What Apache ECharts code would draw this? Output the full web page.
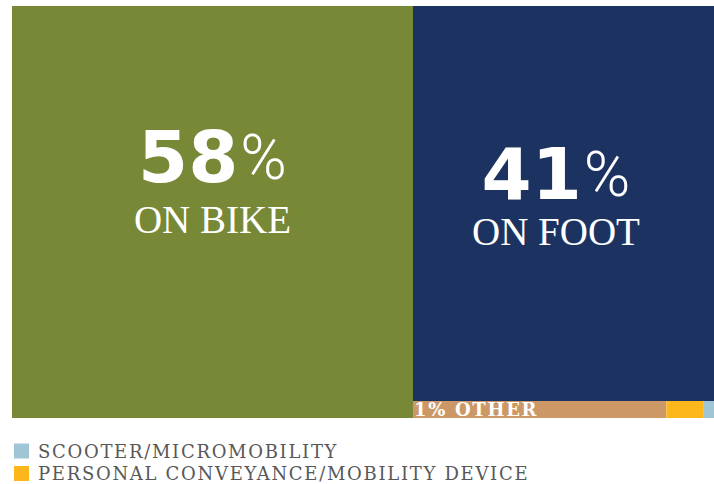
<!DOCTYPE html>
<html>
<head>
<meta charset="utf-8">
<script src="https://cdn.jsdelivr.net/npm/echarts@6/dist/echarts.min.js"></script>
<style>
html, body { margin: 0; padding: 0; background: #ffffff; }
#chart { width: 714px; height: 484px; }
#chart text[style*="DejaVu Serif"] { letter-spacing: 1.7px; }
</style>
</head>
<body>
<div id="chart"></div>
<script>
// ---- data ----
const categories = ['ON BIKE', 'ON FOOT', 'OTHER', 'PERSONAL CONVEYANCE/MOBILITY DEVICE', 'SCOOTER/MICROMOBILITY'];
// share of the drawn area (%) of each block
const areaShare = [57.12, 41.11, 1.49, 0.22, 0.06];
// printed share labels
const shareText = ['58%', '41%', '1%', '', ''];
const legendItems = ['SCOOTER/MICROMOBILITY', 'PERSONAL CONVEYANCE/MOBILITY DEVICE'];

// ---- styles ----
const palette = ['#778837', '#1c3362', '#cc9866', '#fdb71a', '#a0c6d6'];
const legendColors = ['#a0c6d6', '#fdb71a'];

function bigLabel(pct, name, pos, subSize, lh1, lh2) {
  return {
    show: true,
    position: pos,
    align: 'center',
    verticalAlign: 'top',
    padding: 0,
    formatter: '{num|' + pct.replace('%', '') + '}{pct|%}\n{sub|' + name + '}',
    rich: {
      num: { fontFamily: 'DejaVu Sans', fontWeight: 'bold', fontSize: 72, lineHeight: lh1, color: '#ffffff' },
      pct: { fontFamily: 'Roboto', fontWeight: 300, fontSize: 63, lineHeight: lh1, color: '#ffffff', padding: [0, 0, 0, 2] },
      sub: { fontFamily: 'Liberation Serif', fontSize: subSize, lineHeight: lh2, color: '#ffffff' }
    }
  };
}

const labels = [
  bigLabel(shareText[0], categories[0], ['50%', 111], 39, 80, 44),
  bigLabel(shareText[1], categories[1], ['47.5%', 133], 39, 70, 44),
  {
    show: true,
    position: [1, '50%'],
    align: 'left',
    verticalAlign: 'middle',
    padding: 0,
    formatter: shareText[2] + ' ' + categories[2],
    fontFamily: 'DejaVu Serif',
    fontWeight: 'bold',
    fontSize: 18,
    lineHeight: 16,
    color: '#ffffff'
  },
  { show: false },
  { show: false }
];

const treeData = categories.map((c, i) => ({
  name: c,
  value: areaShare[i],
  itemStyle: { color: palette[i] },
  label: labels[i]
}));

const chart = echarts.init(document.getElementById('chart'), null, { renderer: 'svg' });
chart.setOption({
  animation: false,
  backgroundColor: '#ffffff',
  tooltip: { show: false },
  grid: { show: false, left: 0, top: 0, width: 1, height: 1 },
  xAxis: { show: false, type: 'category', data: [] },
  yAxis: { show: false, type: 'value' },
  legend: {
    orient: 'vertical',
    left: 14,
    top: 442,
    padding: 0,
    itemWidth: 15,
    itemHeight: 15,
    itemGap: 4.5,
    icon: 'rect',
    selectedMode: false,
    data: legendItems,
    textStyle: { fontFamily: 'DejaVu Serif', fontSize: 18, color: '#58585a', padding: [0, 0, 0, 4] }
  },
  series: [
    {
      type: 'treemap',
      left: 12,
      top: 6,
      width: 702,
      height: 412,
      roam: false,
      nodeClick: false,
      breadcrumb: { show: false },
      sort: 'desc',
      squareRatio: 0.5 * (1 + Math.sqrt(5)),
      itemStyle: { borderWidth: 0, gapWidth: 0 },
      label: { padding: 0 },
      emphasis: { disabled: true },
      data: treeData
    }
  ].concat(legendItems.map((n, i) => ({
    type: 'bar',
    name: n,
    data: [],
    itemStyle: { color: legendColors[i] }
  })))
});
</script>
</body>
</html>
